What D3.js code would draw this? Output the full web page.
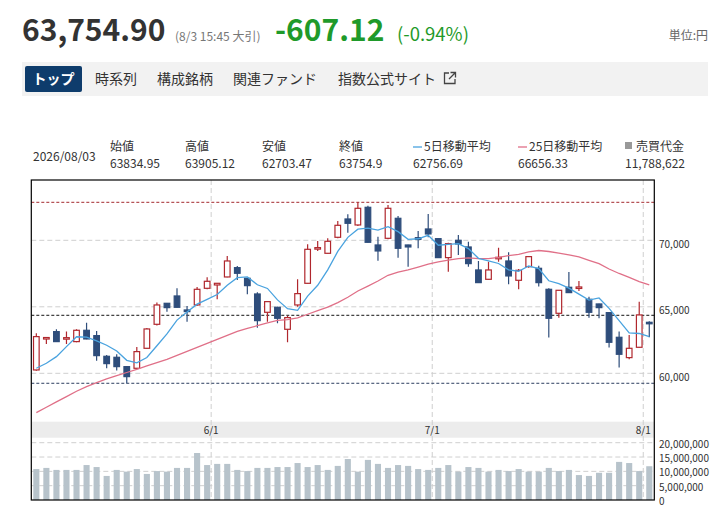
<!DOCTYPE html>
<html><head><meta charset="utf-8">
<script src="https://cdn.jsdelivr.net/npm/d3@7"></script>
<style>
html,body{margin:0;padding:0;background:#fff;}
svg{display:block;font-family:"Noto Sans CJK JP","Noto Sans",sans-serif;}
</style></head><body>
<svg id="c" width="727" height="521"></svg>
<script>
// ---------- data ----------
const dates = [
"2026/05/01","2026/05/07","2026/05/08","2026/05/11","2026/05/12","2026/05/13","2026/05/14","2026/05/15","2026/05/18","2026/05/19",
"2026/05/20","2026/05/21","2026/05/22","2026/05/25","2026/05/26","2026/05/27","2026/05/28","2026/05/29",
"2026/06/01","2026/06/02","2026/06/03","2026/06/04","2026/06/05","2026/06/08","2026/06/09","2026/06/10","2026/06/11","2026/06/12",
"2026/06/15","2026/06/16","2026/06/17","2026/06/18","2026/06/19","2026/06/22","2026/06/23","2026/06/24","2026/06/25","2026/06/26",
"2026/06/29","2026/06/30",
"2026/07/01","2026/07/02","2026/07/03","2026/07/06","2026/07/07","2026/07/08","2026/07/09","2026/07/10","2026/07/13","2026/07/14",
"2026/07/15","2026/07/16","2026/07/17","2026/07/20","2026/07/21","2026/07/22","2026/07/27","2026/07/28","2026/07/29","2026/07/30",
"2026/07/31",
"2026/08/03"];
const open  = [60252,62620,63134,62620,62382,63234,62833,61279,61204,60502,60377,61880,63685,65264,65815,64762,65138,66391,66642,67243,
               67945,67143,65965,64587,64963,63309,65138,66767,69348,69023,70226,71604,71153,72481,69649,70150,71654,69649,70200,70852,
               70125,68697,70000,69499,67770,67068,68647,68446,66993,68020,67895,66316,64512,66467,66416,65564,65214,64562,62708,61179,
               61956,63834.95];
const high  = [63008,62720,63309,63134,63309,63810,63184,61379,61429,60552,61981,63409,65314,65290,66391,65063,66492,67218,66770,68822,
               68070,67160,66091,65400,65013,64336,67068,69699,69950,70150,71453,71955,72857,72606,70276,72656,71829,69660,70702,71980,
               70150,69825,70401,69900,68446,68396,69449,69098,67845,68822,68095,66391,66260,67619,66943,65765,65230,64580,63134,62883,
               65389,63905.12];
const low   = [60200,62206,62350,62206,62332,62560,60953,60377,60202,59250,60327,61860,63585,64637,64940,63885,65088,66316,65564,67230,
               67018,65940,63434,63885,63760,62332,65013,66750,69198,69000,70150,70576,71078,69830,68471,70075,68697,68020,69399,70226,
               68680,67644,68897,68020,66800,67050,68396,66692,66316,67945,66517,62683,64186,66050,66191,64186,64136,61931,60427,61054,
               61940,62703.47];
const close = [62758,62690,62382,62680,63234,62582,61329,60728,60502,59750,61630,63334,65138,64938,64963,64637,66316,66918,66767,68446,
               67519,66592,63960,65389,64136,64186,65990,69323,69449,69925,71128,71278,72406,69850,69198,72406,69399,69499,70075,70476,
               68697,69749,69724,68246,66817,67770,68722,67319,67745,68772,66817,64136,66241,66066,66492,64587,64938,62332,61430,61880,
               64387,63754.90];
// 売買代金 (millions)
const volume = [10.8,11.2,10.5,10.5,10.5,12.2,11.5,8.4,10.5,9.9,10.8,9.1,10.1,9.9,11.2,11.2,16.4,12.2,12.6,12.6,
                10.5,10.1,11.2,11.2,11.5,11.5,12.9,11.5,12.2,10.5,11.9,14.3,9.9,14.0,12.6,11.2,12.2,11.9,10.8,10.5,
                11.2,12.2,9.9,11.5,11.2,9.9,10.5,10.1,10.8,9.9,9.9,11.2,10.1,10.5,8.7,8.4,9.5,9.5,13.3,12.9,
                10.1,11.788622];
const ma5  = [60377,60753,61254,62006,62749,62714,62441,62111,61675,60978,60788,61189,62071,62958,64001,64602,65198,65554,65920,66617,
              67193,67248,66657,66381,65519,64853,64732,65805,66617,67775,69163,70221,70837,70917,70772,71028,70652,70070,70115,70371,
              69629,69699,69744,69378,68647,68461,68256,67775,67675,68066,67875,66958,66742,66406,65950,65504,65665,64883,63956,63033,
              62993,62756.69];
const ma25 = [57040,57450,57850,58250,58650,59000,59300,59580,59830,60060,60300,60550,60800,61050,61350,61650,61950,62250,62550,62850,
              63150,63380,63580,63790,63973,64030,64162,64439,64710,64978,65320,65718,66185,66559,66937,67368,67610,67785,67990,68211,
              68373,68510,68623,68682,68617,68627,68712,68846,68941,69126,69231,69157,69034,68898,68761,68499,68246,67843,67506,67213,
              66893,66656.33];
const priceTicks = [60000,65000,70000];
const volumeTicks = [0,5,10,15,20];
const monthTickDates = ["2026/06/01","2026/07/01","2026/08/03"];
const monthTickLabels = ["6/1","7/1","8/1"];
const prevClose = 64362.02;

// ---------- layout ----------
const svg = d3.select("#c");
const L = 31.3, R = 654.3, T = 180, PB = 421.7, BB = 437.7, B = 500;

// header
svg.append("text").attr("x",22).attr("y",41).attr("font-size",30).attr("font-weight","bold").attr("fill","#333").text("63,754.90");
svg.append("text").attr("x",175).attr("y",41).attr("font-size",12).attr("fill","#777").text("(8/3 15:45 大引)");
svg.append("text").attr("x",275).attr("y",41).attr("font-size",30).attr("font-weight","bold").attr("fill","#1f9a2a").text("-607.12");
svg.append("text").attr("x",397).attr("y",41).attr("font-size",18.5).attr("fill","#1f9a2a").text("(-0.94%)");
svg.append("text").attr("x",708).attr("y",40).attr("font-size",12).attr("fill","#666").attr("text-anchor","end").text("単位:円");

// tabs
svg.append("rect").attr("x",22).attr("y",62).attr("width",686).attr("height",34).attr("fill","#f2f2f2");
svg.append("rect").attr("x",25).attr("y",66).attr("width",57).attr("height",26).attr("rx",2).attr("fill","#0e3c6c");
svg.append("text").attr("x",53.5).attr("y",84).attr("text-anchor","middle").attr("font-size",14).attr("font-weight","bold").attr("fill","#fff").text("トップ");
[["時系列",95],["構成銘柄",157],["関連ファンド",233],["指数公式サイト",338]].forEach(([t,xx])=>{
  svg.append("text").attr("x",xx).attr("y",84).attr("font-size",14).attr("fill","#333").text(t);
});
svg.append("path").attr("d","M449 73 H444.5 V83.5 H455 V79").attr("fill","none").attr("stroke","#444").attr("stroke-width",1.3);
svg.append("path").attr("d","M450.5 72.5 H455.5 V77.5 M455.5 72.5 L449 79").attr("fill","none").attr("stroke","#444").attr("stroke-width",1.3);

// info row
const info = svg.append("g").attr("font-size",12).attr("fill","#333");
info.append("text").attr("x",33).attr("y",161).text("2026/08/03");
const last = dates.length-1;
[["始値",110,open[last].toFixed(2)],["高値",185,high[last].toFixed(2)],["安値",262,low[last].toFixed(2)],["終値",339,String(+close[last].toFixed(2))]].forEach(([lab,xx,v])=>{
  info.append("text").attr("x",xx).attr("y",151).text(lab);
  info.append("text").attr("x",xx).attr("y",168).text(v);
});
info.append("line").attr("x1",413).attr("x2",422).attr("y1",147).attr("y2",147).attr("stroke","#4aa3df").attr("stroke-width",1.3);
info.append("text").attr("x",424).attr("y",151).text("5日移動平均");
info.append("text").attr("x",413).attr("y",168).text(ma5[last].toFixed(2));
info.append("line").attr("x1",518).attr("x2",527).attr("y1",147).attr("y2",147).attr("stroke","#e07088").attr("stroke-width",1.3);
info.append("text").attr("x",529).attr("y",151).text("25日移動平均");
info.append("text").attr("x",518).attr("y",168).text(ma25[last].toFixed(2));
info.append("rect").attr("x",625).attr("y",142).attr("width",7).attr("height",7).attr("fill","#999");
info.append("text").attr("x",636).attr("y",151).text("売買代金");
info.append("text").attr("x",625).attr("y",168).text(d3.format(",")(Math.round(volume[last]*1e6)));

// scales
const x = d3.scaleBand().domain(dates).range([L,R]).paddingInner(0.34).paddingOuter(0.17);
const cx = d => x(d) + x.bandwidth()/2;
const y = d3.scaleLinear().domain([60000,70000]).range([373.3,240.3]);
const yv = d3.scaleLinear().domain([0,20]).range([B,442.7]);

svg.append("clipPath").attr("id","pclip").append("rect").attr("x",L).attr("y",T).attr("width",R-L).attr("height",PB-T);

// date band
svg.append("rect").attr("x",L).attr("y",PB).attr("width",R-L).attr("height",BB-PB).attr("fill","#ececec");

// grid
const grid = svg.append("g").attr("stroke","#cfcfcf").attr("stroke-width",1).attr("stroke-dasharray","5,3");
priceTicks.forEach(v=>grid.append("line").attr("x1",L).attr("x2",R).attr("y1",y(v)).attr("y2",y(v)));
volumeTicks.filter(v=>v>0).forEach(v=>grid.append("line").attr("x1",L).attr("x2",R).attr("y1",yv(v)).attr("y2",yv(v)));
const gap = x.step()-x.bandwidth();
monthTickDates.forEach(d=>{
  const xx = x(d) - gap/2 - 1;
  grid.append("line").attr("x1",xx).attr("x2",xx).attr("y1",T).attr("y2",B);
});

// month labels
monthTickDates.forEach((d,i)=>{
  svg.append("text").attr("x",x(d)-gap/2-1).attr("y",433.5).attr("text-anchor","middle").attr("font-size",10).attr("fill","#333").text(monthTickLabels[i]);
});

// reference lines
const ref = svg.append("g").attr("stroke-width",1).attr("stroke-dasharray","3,2");
ref.append("line").attr("x1",L).attr("x2",R).attr("y1",y(d3.max(high))).attr("y2",y(d3.max(high))).attr("stroke","#a3282e");
ref.append("line").attr("x1",L).attr("x2",R).attr("y1",y(prevClose)).attr("y2",y(prevClose)).attr("stroke","#111");
ref.append("line").attr("x1",L).attr("x2",R).attr("y1",y(d3.min(low))).attr("y2",y(d3.min(low))).attr("stroke","#2c3e60");

// volume bars
const vbw = x.bandwidth()*0.92;
svg.append("g").selectAll("rect").data(dates).join("rect")
  .attr("x",d=>cx(d)-vbw/2).attr("width",vbw)
  .attr("y",(d,i)=>yv(volume[i])).attr("height",(d,i)=>B-yv(volume[i]))
  .attr("fill","#b7c3cb");

// candles
const UP="#b0272d", DN="#2e4d7b";
const cg = svg.append("g").attr("clip-path","url(#pclip)");
dates.forEach((d,i)=>{
  const up = close[i] > open[i];
  const col = up ? UP : DN;
  const xc = cx(d);
  cg.append("line").attr("x1",xc).attr("x2",xc).attr("y1",y(high[i])).attr("y2",y(low[i])).attr("stroke",col).attr("stroke-width",1.2);
  const yt = y(Math.max(open[i],close[i])), yb = y(Math.min(open[i],close[i]));
  const h = Math.max(yb-yt,1.5);
  cg.append("rect").attr("x",xc-(x.bandwidth()-1)/2).attr("width",x.bandwidth()-1)
    .attr("y",yt).attr("height",h)
    .attr("fill",up?"#fff":DN).attr("stroke",col).attr("stroke-width",1.2);
});

// moving averages
const line = d3.line().x((v,i)=>cx(dates[i])).y(v=>y(v));
const lg = svg.append("g").attr("clip-path","url(#pclip)").attr("fill","none");
lg.append("path").attr("d",line(ma25)).attr("stroke","#e07088").attr("stroke-width",1.3);
lg.append("path").attr("d",line(ma5)).attr("stroke","#4aa3df").attr("stroke-width",1.3);

// border
svg.append("rect").attr("x",L).attr("y",T).attr("width",R-L).attr("height",B-T).attr("fill","none").attr("stroke","#000").attr("stroke-width",1.2);

// axis labels
const ax = svg.append("g").attr("font-size",10).attr("fill","#333");
priceTicks.forEach(v=>ax.append("text").attr("x",659).attr("y",y(v)+7.5).text(d3.format(",")(v)));
volumeTicks.forEach(v=>ax.append("text").attr("x",659).attr("y",yv(v)+5).text(d3.format(",")(v*1e6)));
</script>
</body></html>
